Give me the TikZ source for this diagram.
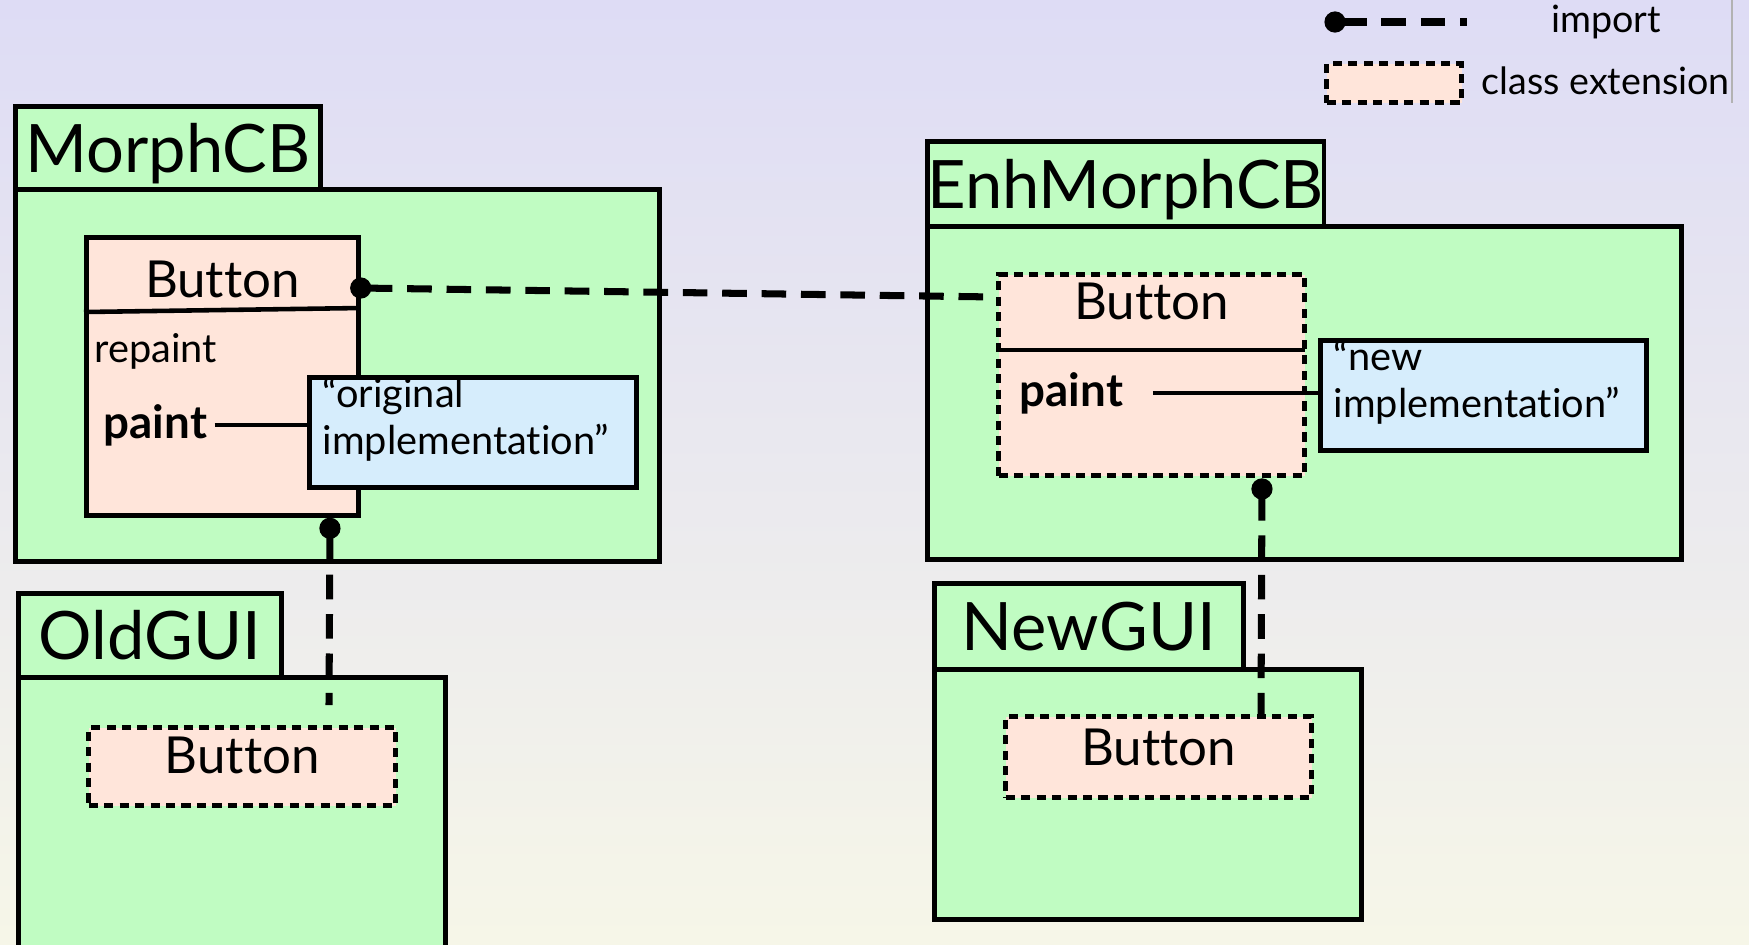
\documentclass[tikz,border=0pt]{standalone}
\usepackage{fontspec}
\setmainfont{Lato}[Ligatures=NoCommon]
\usetikzlibrary{arrows.meta,calc,positioning}
\definecolor{pkggreen}{RGB}{192,252,194}
\definecolor{clspeach}{RGB}{255,229,218}
\definecolor{implblue}{RGB}{214,237,252}
\definecolor{bgtop}{RGB}{222,220,245}
\definecolor{bgbot}{RGB}{246,246,232}
\begin{document}
\begin{tikzpicture}[x=0.01cm,y=-0.01cm,
  pkg/.style={draw,line width=1.3pt,fill=pkggreen,anchor=north west,inner sep=0pt},
  cls/.style={draw,line width=1.3pt,fill=clspeach,anchor=north west,inner sep=0pt},
  clsext/.style={cls,line width=1.5pt,dash pattern=on 2.6pt off 1.8pt},
  impl/.style={draw,line width=1.3pt,fill=implblue,anchor=north west,inner sep=0pt},
  import/.style={line width=2pt,dash pattern=on 7pt off 4.2pt,{Circle[length=6pt]}-},
  pkgname/.style={font=\fontsize{19}{23}\selectfont,text depth=0pt},
  clsname/.style={font=\fontsize{14.5}{17}\selectfont,inner sep=0pt},
  txt/.style={font=\fontsize{11.3}{13.5}\selectfont,align=left,inner sep=0pt},
  meth/.style={font=\fontsize{13}{15}\selectfont\bfseries,inner sep=2pt},
  legtxt/.style={font=\fontsize{10.7}{13}\selectfont,inner sep=0pt}]
\useasboundingbox (0,0) rectangle (1749,944);
\clip (0,0) rectangle (1749,944);
\fill[top color=bgtop,bottom color=bgbot] (0,0) rectangle (1749,944);
\draw[gray!60,line width=0.8pt] (1732,0) -- (1732,103);

\node[pkg,minimum width=6.44cm,minimum height=3.72cm] (morph) at (13,187) {};
\node[pkg,pkgname,minimum width=3.05cm,minimum height=0.83cm] (morphtab) at (13,104) {MorphCB};
\node[cls,minimum width=2.72cm,minimum height=2.78cm] (morphbtn) at (84,235) {};
\node[clsname] (morphbtnname) at ($(morphbtn.north)+(0,44)$) {Button};
\draw[line width=1.3pt] ($(morphbtn.north west)+(0,77)$) -- ($(morphbtn.north east)+(0,73)$);
\node[txt,anchor=west] (repaint) at (94,351) {repaint};
\node[meth,anchor=west] (morphpaint) at (96,425) {paint};
\node[impl,minimum width=3.27cm,minimum height=1.10cm] (origimpl) at (307,375) {};
\node[txt,anchor=west] (origimpltxt) at ($(origimpl.west)+(15,-13)$) {“original\\implementation”};
\draw[line width=1.3pt] (morphpaint.east) -- (morphpaint.east -| origimpl.west);

\node[pkg,minimum width=7.54cm,minimum height=3.33cm] (enh) at (925,224) {};
\node[pkg,pkgname,minimum width=3.91cm,minimum height=0.85cm] (enhtab) at (925,139) {EnhMorphCB};
\node[clsext,minimum width=3.06cm,minimum height=2.01cm] (enhbtn) at (996,272) {};
\node[clsname] (enhbtnname) at ($(enhbtn.north)+(0,29)$) {Button};
\draw[line width=1.3pt] ($(enhbtn.north west)+(0,78)$) -- ++(309,0);
\node[meth,anchor=west] (enhpaint) at (1012,393) {paint};
\node[impl,minimum width=3.26cm,minimum height=1.10cm] (newimpl) at (1318,338) {};
\node[txt,anchor=west] (newimpltxt) at ($(newimpl.west)+(15,-13)$) {“new\\implementation”};
\draw[line width=1.3pt] ([xshift=0.22cm]enhpaint.east) -- (enhpaint.east -| newimpl.west);

\node[pkg,minimum width=4.27cm,minimum height=3.0cm] (old) at (16,675) {};
\node[pkg,pkgname,minimum width=2.63cm,minimum height=0.84cm] (oldtab) at (16,591) {OldGUI};
\node[clsext,minimum width=3.07cm,minimum height=0.78cm] (oldbtn) at (86,725) {};
\node[clsname] (oldbtnname) at ($(oldbtn.center)+(0,-11)$) {Button};

\node[pkg,minimum width=4.27cm,minimum height=2.5cm] (new) at (932,667) {};
\node[pkg,pkgname,minimum width=3.09cm,minimum height=0.86cm] (newtab) at (932,581) {NewGUI};
\node[clsext,minimum width=3.06cm,minimum height=0.81cm] (newbtn) at (1003,714) {};
\node[clsname] (newbtnname) at ($(newbtn.center)+(0,-10)$) {Button};

\draw[import,shorten <=-3pt] ($(morphbtn.north east)+(0,53)$) -- ($(enhbtn.north west)+(0,25)$);
\coordinate (oldin) at ($(oldbtn.north west)+(243,-20)$);
\draw[import] ($(morphbtn.south west)+(246,0)$) -- (oldin);
\draw[import] ($(enhbtn.south west)+(266,0)$) -- ($(newbtn.north west)+(258,0)$);

\coordinate (legstart) at (1335,22);
\coordinate (legstop) at (1467,22);
\draw[import,shorten <=-3pt] (legstart) -- (legstop);
\node[legtxt] (legimport) at (1606,22) {import};
\node[clsext,minimum width=1.35cm,minimum height=0.39cm] (legext) at (1324,61) {};
\node[legtxt,anchor=west] (legexttxt) at (1481,81) {class extension};
\end{tikzpicture}
\end{document}
